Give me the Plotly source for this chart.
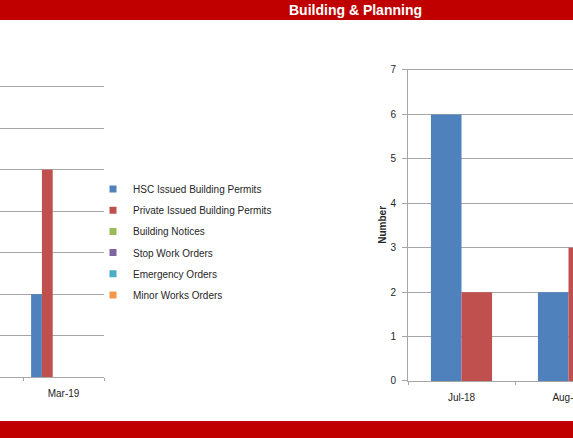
import plotly.graph_objects as go

# ---- data -------------------------------------------------------------
series_names = [
    "HSC Issued Building Permits",
    "Private Issued Building Permits",
    "Building Notices",
    "Stop Work Orders",
    "Emergency Orders",
    "Minor Works Orders",
]
series_colors = ["#4F81BD", "#C0504D", "#9BBB59", "#8064A2", "#4BACC6", "#F79646"]

# left chart (monthly counts, six series)
left_months = ["Mar-19"]
left_values = [
    [2],  # HSC Issued Building Permits
    [5],  # Private Issued Building Permits
    [0],  # Building Notices
    [0],  # Stop Work Orders
    [0],  # Emergency Orders
    [0],  # Minor Works Orders
]

# right chart (monthly counts, two series)
right_months = ["Jul-18", "Aug-18"]
right_hsc = [6, 2]
right_private = [2, 3]

y_ticks = [0, 1, 2, 3, 4, 5, 6, 7]

# ---- geometry helpers ---------------------------------------------------
W, H = 573, 438


def px_x(p):
    return p / W


def px_y(p):
    return (H - p) / H


GRID = "#A6A6A6"
TXT = "#262626"
FONT = "Liberation Sans"

fig = go.Figure()

# left chart bars: six series, 150% gap between categories
n_left = len(series_names)
bw_left = 1 / (n_left + 1.5)
for i, (name, col, vals) in enumerate(zip(series_names, series_colors, left_values)):
    fig.add_trace(go.Bar(
        x=left_months, y=vals, name=name, marker_color=col,
        marker_line_width=0, width=bw_left,
        offset=-n_left * bw_left / 2 + i * bw_left,
        xaxis="x", yaxis="y", showlegend=False, hoverinfo="x+y+name",
    ))

# right chart bars: two series, 150% gap between categories
bw_right = 1 / (2 + 1.5)
for i, (name, col, vals) in enumerate(zip(series_names[:2], series_colors[:2],
                                          [right_hsc, right_private])):
    fig.add_trace(go.Bar(
        x=right_months, y=vals, name=name, marker_color=col,
        marker_line_width=0, width=bw_right,
        offset=-bw_right + i * bw_right,
        xaxis="x2", yaxis="y2", showlegend=False, hoverinfo="x+y+name",
    ))

# legend entries for the six series of the left chart
for i, (name, col) in enumerate(zip(series_names, series_colors)):
    fig.add_trace(go.Scatter(
        x=[None], y=[None], mode="markers", name=name,
        marker=dict(symbol="square", size=7, color=col),
        xaxis="x", yaxis="y", legendgroup=f"g{i}", showlegend=True,
    ))

# category span of one month on the left axis is 81 px; plot starts 23 px
# before the first shown boundary
left_cat_px = 81
left_start = -0.5 - 23 / left_cat_px
right_cat_px = 107
right_end = -0.5 + (W - 408) / right_cat_px

# small headroom above 7 so the top gridline is not clipped at the edge
y_top = 7.03
left_unit_px = (377 - 87) / 7
right_unit_px = (381 - 70) / 7

axis_common = dict(
    showline=True, linecolor=GRID, linewidth=1, automargin=False,
    tickfont=dict(family=FONT, size=10, color=TXT),
)

fig.update_layout(
    width=W, height=H,
    margin=dict(l=0, r=0, t=0, b=0, autoexpand=False),
    paper_bgcolor="white", plot_bgcolor="white",
    barmode="group",
    showlegend=True,
    legend=dict(
        x=px_x(93), y=px_y(174.5), xanchor="left", yanchor="top",
        font=dict(family=FONT, size=10, color=TXT),
        tracegroupgap=2.2, itemwidth=30, bgcolor="rgba(0,0,0,0)",
        itemclick=False, itemdoubleclick=False,
    ),
    xaxis=dict(
        domain=[0, px_x(104)], type="category", range=[left_start, 0.5],
        tickson="boundaries", ticks="outside", ticklen=3, tickcolor=GRID,
        ticklabelstandoff=7, showgrid=False, anchor="y", **axis_common,
    ),
    yaxis=dict(
        domain=[px_y(377), px_y(377 - y_top * left_unit_px)], range=[0, y_top],
        tickvals=y_ticks,
        showgrid=True, gridcolor=GRID, gridwidth=1, zeroline=False,
        showticklabels=False, showline=False, anchor="x", automargin=False,
    ),
    xaxis2=dict(
        domain=[px_x(408), 1], type="category", range=[-0.5, right_end],
        tickson="boundaries", ticks="outside", ticklen=3, tickcolor=GRID,
        ticklabelstandoff=7, showgrid=False, anchor="y2", **axis_common,
    ),
    yaxis2=dict(
        domain=[px_y(381), px_y(381 - y_top * right_unit_px)], range=[0, y_top],
        tickvals=y_ticks,
        showgrid=True, gridcolor=GRID, gridwidth=1, zeroline=False,
        ticks="outside", ticklen=5, tickcolor=GRID, ticklabelstandoff=4,
        title=dict(text="Number", standoff=1,
                   font=dict(family=FONT, size=10, color=TXT, weight="bold")),
        anchor="x2", **axis_common,
    ),
    shapes=[
        dict(type="rect", xref="paper", yref="paper", x0=0, x1=1,
             y0=px_y(20), y1=1, fillcolor="#C00000", line_width=0, layer="above"),
        dict(type="rect", xref="paper", yref="paper", x0=0, x1=1,
             y0=0, y1=px_y(421), fillcolor="#C00000", line_width=0, layer="above"),
    ],
    annotations=[
        dict(text="<b>Building &amp; Planning</b>", xref="paper", yref="paper",
             x=px_x(355.5), y=px_y(10), xanchor="center", yanchor="middle",
             showarrow=False, font=dict(family="Liberation Sans", size=14, color="white")),
    ],
)

fig.write_html("out.html")
